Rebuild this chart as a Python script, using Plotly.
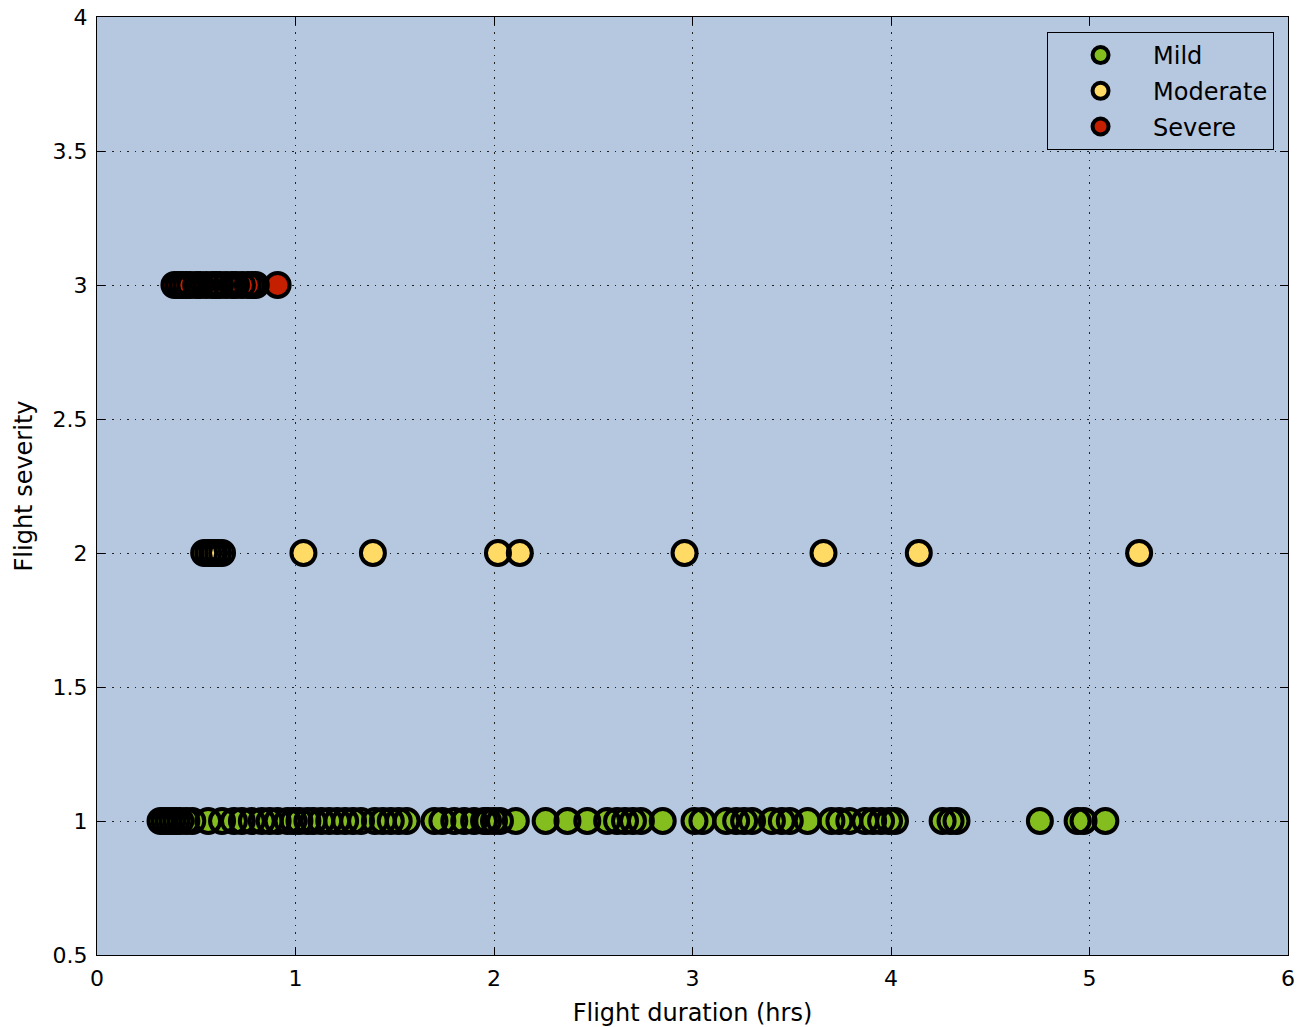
import plotly.graph_objects as go

mild_x = [0.32, 0.34, 0.36, 0.38, 0.40, 0.42, 0.45, 0.48, 0.56, 0.63, 0.69, 0.73, 0.78,
          0.83, 0.87, 0.91, 0.96, 0.99, 1.02, 1.06, 1.09, 1.13, 1.17, 1.21, 1.25, 1.29,
          1.33, 1.40, 1.44, 1.48, 1.52, 1.56, 1.70, 1.74, 1.80, 1.85, 1.90, 1.95, 1.97,
          2.00, 2.03, 2.11, 2.26, 2.37, 2.47, 2.57, 2.62, 2.66, 2.70, 2.74, 2.85, 3.01,
          3.05, 3.17, 3.22, 3.26, 3.30, 3.40, 3.45, 3.49, 3.58, 3.70, 3.74, 3.79, 3.87,
          3.91, 3.95, 3.99, 4.02, 4.26, 4.30, 4.33, 4.75, 4.94, 4.97, 5.08]
mild_y = [1] * len(mild_x)

moderate_x = [0.54, 0.56, 0.58, 0.59, 0.61, 0.63, 1.04, 1.39, 2.02, 2.13, 2.96, 3.66,
              4.14, 5.25]
moderate_y = [2] * len(moderate_x)

severe_x = [0.39, 0.41, 0.43, 0.45, 0.47, 0.50, 0.52, 0.55, 0.58, 0.60, 0.62, 0.65,
            0.68, 0.70, 0.73, 0.76, 0.78, 0.80, 0.91]
severe_y = [3] * len(severe_x)

x_ticks = [0, 1, 2, 3, 4, 5, 6]
y_ticks = [0.5, 1, 1.5, 2, 2.5, 3, 3.5, 4]
y_tick_labels = ["0.5", "1", "1.5", "2", "2.5", "3", "3.5", "4"]

font_family = "DejaVu Sans, Liberation Sans, sans-serif"
bg = "#B6C7E0"

fig = go.Figure()
series = [
    ("Mild", mild_x, mild_y, "#84BE1E"),
    ("Moderate", moderate_x, moderate_y, "#FFDB66"),
    ("Severe", severe_x, severe_y, "#C42000"),
]
for name, xs, ys, color in series:
    # fills first, then all edges on top (MATLAB-like rendering of overlapping markers)
    fig.add_trace(go.Scatter(
        x=xs, y=ys, mode="markers", name=name, showlegend=False, hoverinfo="skip",
        marker=dict(size=24, color=color, line=dict(width=0)),
    ))
    fig.add_trace(go.Scatter(
        x=xs, y=ys, mode="markers", name=name, showlegend=False,
        marker=dict(size=24, color="rgba(0,0,0,0)", line=dict(color="black", width=4)),
    ))
    # legend entry
    fig.add_trace(go.Scatter(
        x=[None], y=[None], mode="markers", name=name, showlegend=True,
        legendgroup=name,
        marker=dict(size=24, color=color, line=dict(color="black", width=4)),
    ))

axis_common = dict(
    showline=True, linecolor="black", linewidth=1, mirror="ticks",
    ticks="inside", ticklen=8, tickcolor="black",
    showgrid=True, gridcolor="#222222", griddash="1.5px,6px", gridwidth=1,
    zeroline=False, automargin=False, ticklabelstandoff=4,
    ticklabeloverflow="allow",
    tickfont=dict(size=22, color="black", family=font_family),
)

fig.update_layout(
    width=1297, height=1027,
    margin=dict(l=97, r=9, t=17, b=72),
    paper_bgcolor="white",
    plot_bgcolor=bg,
    font=dict(family=font_family, color="black"),
    xaxis=dict(range=[0, 6], tickvals=x_ticks,
               title=dict(text="Flight duration (hrs)", font=dict(size=24), standoff=13),
               **axis_common),
    yaxis=dict(range=[0.5, 4], tickvals=y_ticks, ticktext=y_tick_labels,
               title=dict(text="Flight severity", font=dict(size=24), standoff=13),
               **axis_common),
    legend=dict(
        x=0.7977, y=0.984, xanchor="left", yanchor="top",
        bgcolor=bg, bordercolor="black", borderwidth=1,
        font=dict(size=24, color="black", family=font_family),
        itemwidth=95, tracegroupgap=1.5,
    ),
    showlegend=True,
)

fig.write_html("out.html", config={"displayModeBar": False},
               post_script="document.body.style.margin='0';")
